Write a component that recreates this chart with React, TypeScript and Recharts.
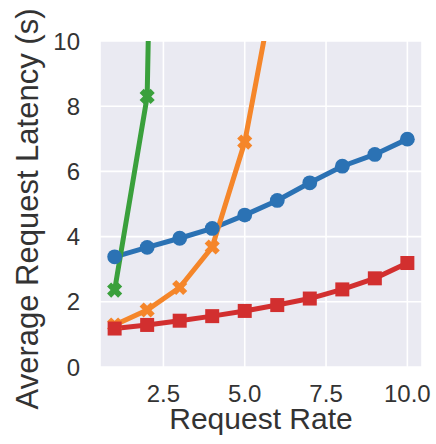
import React from "react";
import { LineChart, Line, XAxis, YAxis, CartesianGrid } from "recharts";

// request rates on the x axis
const requestRates = [1, 2, 3, 4, 5, 6, 7, 8, 9, 10];

// average latency per series (s); null = not measured
const blueLatency = [3.38, 3.67, 3.95, 4.25, 4.66, 5.11, 5.65, 6.16, 6.52, 6.99];
const orangeLatency = [1.29, 1.75, 2.44, 3.68, 6.9, 12.2, null, null, null, null];
const greenLatency = [2.36, 8.3, 60, null, null, null, null, null, null, null];
const redLatency = [1.18, 1.29, 1.42, 1.56, 1.72, 1.9, 2.1, 2.38, 2.72, 3.19];

const xTicks = [2.5, 5, 7.5, 10];
const yTicks = [0, 2, 4, 6, 8, 10];

const COLORS = {
  blue: "#2b72b4",
  orange: "#f5862a",
  green: "#3aa03c",
  red: "#d22f2f",
};

const data = requestRates.map((x, i) => ({
  x,
  blue: blueLatency[i],
  orange: orangeLatency[i],
  green: greenLatency[i],
  red: redLatency[i],
}));

const FONT = "'Liberation Sans', Arial, Helvetica, sans-serif";
const TEXT = "#333";

const circleDot = (color: string) => (props: any) => {
  const { cx, cy, index } = props;
  if (cx == null || cy == null) return <g key={index} />;
  return <circle key={index} cx={cx} cy={cy} r={7.4} fill={color} />;
};

const squareDot = (color: string) => (props: any) => {
  const { cx, cy, index } = props;
  if (cx == null || cy == null) return <g key={index} />;
  const s = 7;
  return <rect key={index} x={cx - s} y={cy - s} width={s * 2} height={s * 2} fill={color} />;
};

// filled "X" marker like matplotlib's 'X'
const crossDot = (color: string) => (props: any) => {
  const { cx, cy, index } = props;
  if (cx == null || cy == null) return <g key={index} />;
  const a = 7.8; // arm length
  const w = 2.9; // arm half-thickness
  const pts = [
    [-w, -a], [w, -a], [w, -w], [a, -w], [a, w], [w, w],
    [w, a], [-w, a], [-w, w], [-a, w], [-a, -w], [-w, -w],
  ]
    .map(([px, py]) => {
      const r = Math.SQRT1_2;
      const rx = (px - py) * r;
      const ry = (px + py) * r;
      return `${cx + rx},${cy + ry}`;
    })
    .join(" ");
  return <polygon key={index} points={pts} fill={color} />;
};

// rotated y-axis title, nudged a little below the plot centre
const YTitle = (props: any) => {
  const vb = props.viewBox || {};
  const x = (vb.x || 0) + 27;
  const y = (vb.y || 0) + (vb.height || 0) / 2 + 5;
  return (
    <text
      x={x}
      y={y}
      transform={`rotate(-90, ${x}, ${y})`}
      textAnchor="middle"
      dy="0.36em"
      fill={TEXT}
      fontSize={31}
      fontFamily={FONT}
    >
      Average Request Latency (s)
    </text>
  );
};

export default function App() {
  return (
    <div style={{ position: "absolute", left: 0, top: 0 }}>
      <LineChart
        width={436}
        height={444}
        data={data}
        margin={{ top: 41, right: 14, bottom: 0, left: 0 }}
      >
        <CartesianGrid fill="#eaeaf2" stroke="#ffffff" strokeWidth={1.6} />
        <XAxis
          dataKey="x"
          type="number"
          domain={[0.55, 10.45]}
          ticks={xTicks}
          allowDataOverflow
          tickFormatter={(v: number) => v.toFixed(1)}
          axisLine={false}
          tickLine={false}
          tickSize={0}
          tickMargin={18}
          height={77}
          tick={{ fill: TEXT, fontSize: 24, fontFamily: FONT }}
          label={{
            value: "Request Rate",
            position: "insideBottom",
            offset: 15,
            fill: TEXT,
            fontSize: 30,
            fontFamily: FONT,
          }}
        />
        <YAxis
          type="number"
          domain={[0, 10]}
          ticks={yTicks}
          allowDataOverflow
          axisLine={false}
          tickLine={false}
          tickSize={0}
          tickMargin={20}
          width={100}
          tick={{ fill: TEXT, fontSize: 24, fontFamily: FONT }}
          label={{ content: YTitle }}
        />
        <Line
          dataKey="blue"
          stroke={COLORS.blue}
          strokeWidth={5}
          dot={circleDot(COLORS.blue)}
          activeDot={false}
          isAnimationActive={false}
        />
        <Line
          dataKey="orange"
          stroke={COLORS.orange}
          strokeWidth={5}
          dot={crossDot(COLORS.orange)}
          activeDot={false}
          isAnimationActive={false}
        />
        <Line
          dataKey="green"
          stroke={COLORS.green}
          strokeWidth={5}
          dot={crossDot(COLORS.green)}
          activeDot={false}
          isAnimationActive={false}
        />
        <Line
          dataKey="red"
          stroke={COLORS.red}
          strokeWidth={5}
          dot={squareDot(COLORS.red)}
          activeDot={false}
          isAnimationActive={false}
        />
      </LineChart>
    </div>
  );
}
